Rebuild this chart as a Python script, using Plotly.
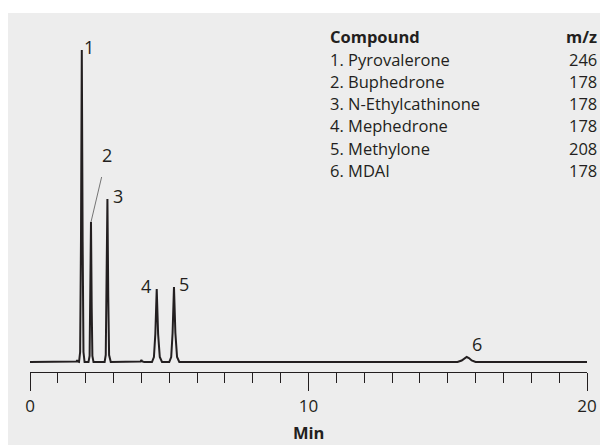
import plotly.graph_objects as go

# ---- data ----
time_min = [0.0, 1.62, 1.67, 1.69, 1.71, 1.76, 1.80, 1.83, 1.86, 1.89, 1.92, 1.96,
            2.10, 2.14, 2.165, 2.19, 2.215, 2.24, 2.28,
            2.68, 2.72, 2.75, 2.78, 2.81, 2.84, 2.90,
            3.90, 3.97, 4.00, 4.03, 4.10,
            4.38, 4.45, 4.50, 4.55, 4.60, 4.66, 4.74,
            5.00, 5.07, 5.12, 5.17, 5.22, 5.28, 5.36,
            8.0, 10.9, 11.2, 11.5, 12.2, 12.5, 12.8,
            15.35, 15.50, 15.60, 15.68, 15.76, 15.86, 16.00, 20.0]
signal = [0, 0, 0.5, 2, 0.5, 0, 10, 120, 312, 120, 10, 0,
          0, 6, 55, 140, 55, 6, 0,
          0, 7, 65, 163, 65, 7, 0,
          0, 0.5, 2, 0.5, 0,
          0, 5, 28, 73, 28, 5, 0,
          0, 5, 29, 75, 29, 5, 0,
          0, 0, 0.6, 0, 0, 0.5, 0,
          0, 1.5, 4, 5, 4, 1.5, 0, 0]

peak_labels = ["1", "2", "3", "4", "5", "6"]
peak_times = [1.86, 2.19, 2.78, 4.55, 5.17, 15.68]
peak_heights = [312, 140, 163, 73, 75, 5]

compounds = ["1. Pyrovalerone", "2. Buphedrone", "3. N-Ethylcathinone",
             "4. Mephedrone", "5. Methylone", "6. MDAI"]
mz_values = ["246", "178", "178", "178", "208", "178"]

tick_vals = [0, 10, 20]
tick_text = ["0", "10", "20"]

# ---- style ----
INK = "#231f20"
BG = "#ededed"
FONT = "Open Sans"

OFF = 8  # page body margin
W, H = 608 - OFF, 445 - OFF
L, R, T, B = 30 - OFF, 21, 40 - OFF, 73
pw, ph = W - L - R, H - T - B

def px_to_paper_x(px):
    return (px - OFF - L) / pw

def px_to_paper_y(py):
    return (H - B - (py - OFF)) / ph

fig = go.Figure()
fig.add_trace(go.Scatter(x=time_min, y=signal, mode="lines",
                         line=dict(color=INK, width=2), hoverinfo="skip",
                         showlegend=False))

# background panel
fig.add_shape(type="rect", xref="paper", yref="paper",
              x0=px_to_paper_x(7), x1=px_to_paper_x(612),
              y0=px_to_paper_y(450), y1=px_to_paper_y(13),
              fillcolor=BG, line=dict(width=0), layer="below")

# peak labels (pixel offsets from apex)
offsets = [(7, 3), (16, 67), (11, 3), (-11, 3), (10, 3), (10, 13)]
for lab, t, h, (dx, dy) in zip(peak_labels, peak_times, peak_heights, offsets):
    fig.add_annotation(x=t, y=h, text=lab, showarrow=False, xshift=dx, yshift=dy,
                       xanchor="center", yanchor="middle",
                       font=dict(family=FONT, size=18, color=INK))

# leader line for peak 2
fig.add_annotation(x=peak_times[1], y=peak_heights[1], text=" ", showarrow=True,
                   ax=13, ay=-55, arrowhead=0, arrowwidth=0.8, arrowcolor="#555",
                   standoff=0, startstandoff=0)

# compound table
TS = 16.5
rows_y = [36.7, 59, 81.3, 103.6, 125.9, 148.2, 170.5]
fig.add_annotation(xref="paper", yref="paper", x=px_to_paper_x(328), y=px_to_paper_y(rows_y[0]),
                   text="<b>Compound</b>", showarrow=False, xanchor="left", yanchor="middle",
                   font=dict(family=FONT, size=TS, color=INK))
fig.add_annotation(xref="paper", yref="paper", x=px_to_paper_x(599), y=px_to_paper_y(rows_y[0]),
                   text="<b>m/z</b>", showarrow=False, xanchor="right", yanchor="middle",
                   font=dict(family=FONT, size=TS, color=INK))
for i, (c, m) in enumerate(zip(compounds, mz_values)):
    fig.add_annotation(xref="paper", yref="paper", x=px_to_paper_x(328), y=px_to_paper_y(rows_y[i + 1]),
                       text=c, showarrow=False, xanchor="left", yanchor="middle",
                       font=dict(family=FONT, size=TS, color=INK))
    fig.add_annotation(xref="paper", yref="paper", x=px_to_paper_x(599), y=px_to_paper_y(rows_y[i + 1]),
                       text=m, showarrow=False, xanchor="right", yanchor="middle",
                       font=dict(family=FONT, size=TS, color=INK))

# axis title
fig.add_annotation(xref="paper", yref="paper", x=0.5, y=px_to_paper_y(432),
                   text="<b>Min</b>", showarrow=False, xanchor="center", yanchor="middle",
                   font=dict(family=FONT, size=16.5, color=INK))

fig.update_layout(
    width=W, height=H, margin=dict(l=L, r=R, t=T, b=B, pad=0),
    paper_bgcolor="white", plot_bgcolor="rgba(0,0,0,0)",
    xaxis=dict(range=[0, 20], showgrid=False, zeroline=False,
               showline=True, linecolor=INK, linewidth=1.3,
               ticks="outside", ticklen=18, tickwidth=1.3, tickcolor=INK,
               tickvals=tick_vals, ticktext=tick_text,
               tickfont=dict(family=FONT, size=17, color=INK),
               minor=dict(ticks="outside", ticklen=10, tickwidth=1.1,
                          tickcolor=INK, dtick=1, tick0=0, showgrid=False)),
    yaxis=dict(range=[-10, 322], visible=False, showgrid=False, zeroline=False),
)

fig.write_html("out.html")
